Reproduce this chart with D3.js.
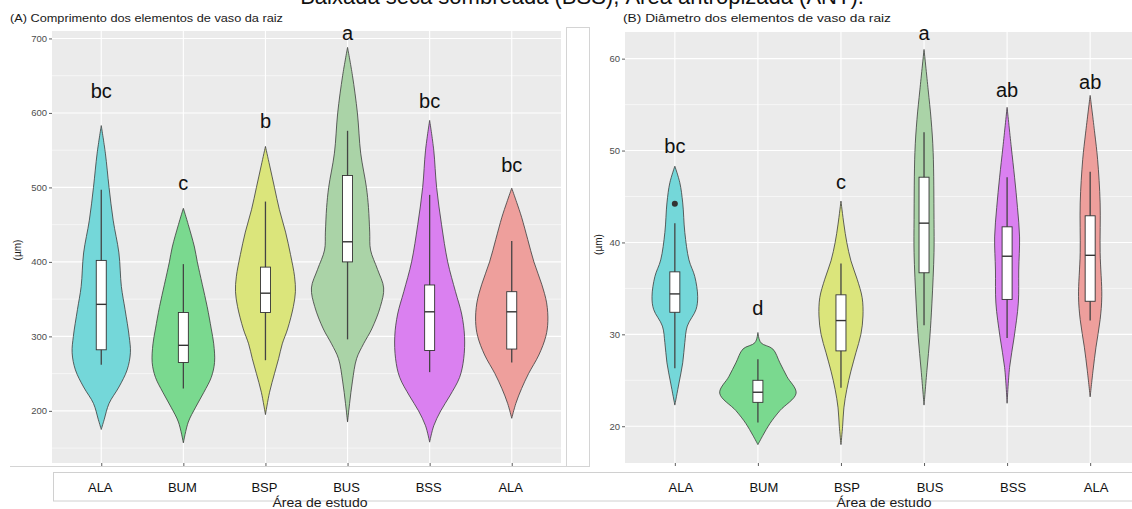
<!DOCTYPE html>
<html>
<head>
<meta charset="utf-8">
<script src="https://cdn.jsdelivr.net/npm/d3@7/dist/d3.min.js"></script>
<style>
  html, body { margin: 0; padding: 0; background: #fff; }
  svg { display: block; font-family: "Liberation Sans", Arial, sans-serif; }
</style>
</head>
<body>
<svg id="chart" width="1132" height="509"></svg>
<script>
// ---- data -------------------------------------------------------------
const categories = ["ALA", "BUM", "BSP", "BUS", "BSS", "ALA"];
const fills = ["#74D7D9", "#7AD98F", "#DBE57B", "#AAD3A7", "#DA80F0", "#EE9F9C"];

// (A) vessel element length (µm)
const ticksA = [200, 300, 400, 500, 600, 700];
const minorA = [150, 250, 350, 450, 550, 650];
const lettersA = ["bc", "c", "b", "a", "bc", "bc"];
const letterYA = [630, 506, 589, 707, 616, 530];
const whiskerLoA = [262, 230, 268, 296, 252, 265];
const q1A = [282, 265, 332, 400, 281, 283];
const medianA = [343, 288, 358, 427, 333, 333];
const q3A = [402, 332, 393, 516, 369, 360];
const whiskerHiA = [497, 397, 481, 576, 490, 428];
const outliersA = [[], [], [], [], [], []];
// violin outlines: [value, relative density]
const violinA = [
  [[583,0],[546,.10],[500,.19],[456,.29],[412,.43],[367,.49],[336,.58],[300,.68],[278,.71],[255,.63],[232,.43],[210,.19],[188,.07],[175,0]],
  [[472,0],[450,.12],[420,.27],[400,.34],[370,.46],[340,.58],[310,.68],[290,.74],[265,.76],[245,.68],[225,.5],[205,.3],[185,.12],[157,0]],
  [[555,0],[530,.1],[500,.22],[470,.34],[440,.49],[410,.61],[380,.71],[360,.73],[340,.68],[310,.54],[290,.41],[270,.32],[250,.22],[225,.1],[195,0]],
  [[688,0],[650,.12],[600,.24],[546,.32],[500,.46],[473,.51],[440,.54],[416,.56],[390,.73],[365,.88],[340,.8],[310,.59],[290,.39],[270,.22],[240,.12],[210,.05],[185,0]],
  [[590,0],[550,.1],[500,.17],[450,.29],[400,.44],[360,.63],[330,.78],[300,.85],[270,.83],[245,.73],[220,.49],[200,.27],[180,.1],[158,0]],
  [[499,0],[480,.12],[460,.24],[430,.39],[400,.54],[370,.73],[345,.85],[320,.88],[300,.83],[275,.66],[250,.41],[230,.24],[210,.1],[190,0]]
];

// (B) vessel element diameter (µm)
const ticksB = [20, 30, 40, 50, 60];
const minorB = [25, 35, 45, 55];
const lettersB = ["bc", "d", "c", "a", "ab", "ab"];
const letterYB = [50.5, 32.9, 46.6, 62.8, 56.6, 57.5];
const whiskerLoB = [26.3, 20.4, 24.2, 31.0, 29.6, 31.5];
const q1B = [32.4, 22.6, 28.2, 36.7, 33.8, 33.6];
const medianB = [34.4, 23.7, 31.5, 42.1, 38.5, 38.6];
const q3B = [36.8, 25.0, 34.3, 47.1, 41.7, 42.9];
const whiskerHiB = [42.1, 27.3, 37.7, 52.0, 47.1, 47.7];
const outliersB = [[44.2], [], [], [], [], []];
const violinB = [
  [[48.3,0],[46.5,.12],[44.3,.19],[41.1,.24],[38.1,.34],[36.3,.48],[34.1,.55],[32.7,.51],[30.9,.3],[29.1,.24],[26.9,.19],[24.7,.1],[22.3,0]],
  [[30.2,0],[29.1,.07],[28.4,.36],[26.9,.53],[25.4,.7],[23.6,.92],[21.7,.53],[20.3,.29],[19.0,.12],[18.0,0]],
  [[44.5,0],[42,.07],[40,.14],[38,.24],[36,.39],[34,.51],[32,.53],[30,.48],[28,.36],[26,.24],[24,.14],[22,.07],[20,.04],[18,0]],
  [[61,0],[56.6,.1],[53.4,.17],[49.8,.22],[42.5,.24],[38.9,.24],[33.4,.19],[29.7,.14],[26.1,.07],[22.3,0]],
  [[54.7,0],[50.4,.1],[47.1,.18],[43.8,.25],[40.6,.3],[37,.28],[33.4,.27],[29.7,.17],[26.4,.06],[22.5,0]],
  [[56,0],[51.9,.11],[49,.18],[44.3,.24],[38.9,.24],[34.1,.28],[31.6,.24],[28.6,.14],[26.1,.07],[23.2,0]]
];

// ---- drawing ----------------------------------------------------------
const svg = d3.select("#chart");
svg.append("rect").attr("width", 1132).attr("height", 509).attr("fill", "#fff");

// headline running above the figure (only its lower part is in view)
svg.append("text")
  .attr("x", 582).attr("y", 4)
  .attr("text-anchor", "middle")
  .attr("font-size", 22)
  .attr("fill", "#111")
  .text("Baixada seca sombreada (BSS), Área antropizada (ANT).");

function panel(cfg) {
  const g = svg.append("g");
  const idx = d3.range(categories.length);
  const x = d3.scalePoint().domain(idx).range([cfg.left, cfg.right]).padding(0.6);
  const y = d3.scaleLinear().domain(cfg.yDomain).range([cfg.bottom, cfg.top]);
  const half = x.step() / 2;
  const w = d3.scaleLinear().domain([0, 1]).range([0, half]);

  // panel background
  g.append("rect")
    .attr("x", cfg.left).attr("y", cfg.top)
    .attr("width", cfg.right - cfg.left).attr("height", cfg.bottom - cfg.top)
    .attr("fill", "#EBEBEB");

  // grid
  g.selectAll(".minor").data(cfg.minor).join("line")
    .attr("x1", cfg.left).attr("x2", cfg.right)
    .attr("y1", d => y(d)).attr("y2", d => y(d))
    .attr("stroke", "#fff").attr("stroke-width", 0.55);
  g.selectAll(".major").data(cfg.ticks).join("line")
    .attr("x1", cfg.left).attr("x2", cfg.right)
    .attr("y1", d => y(d)).attr("y2", d => y(d))
    .attr("stroke", "#fff").attr("stroke-width", 1.1);
  g.selectAll(".vgrid").data(idx).join("line")
    .attr("x1", d => x(d)).attr("x2", d => x(d))
    .attr("y1", cfg.top).attr("y2", cfg.bottom)
    .attr("stroke", "#fff").attr("stroke-width", 1.1);

  // y axis
  const yAxis = d3.axisLeft(y).tickValues(cfg.ticks).tickSize(3).tickPadding(2);
  const ya = g.append("g").attr("transform", `translate(${cfg.left},0)`).call(yAxis);
  ya.select(".domain").remove();
  ya.selectAll("line").attr("stroke", "#333").attr("stroke-width", 0.8);
  ya.selectAll("text").attr("fill", "#4D4D4D").attr("font-size", 9.5)
    .attr("font-family", "Liberation Sans, Arial, sans-serif");

  // x axis ticks
  const xAxis = d3.axisBottom(x).tickSize(3).tickFormat("");
  const xa = g.append("g").attr("transform", `translate(0,${cfg.bottom})`).call(xAxis);
  xa.select(".domain").remove();
  xa.selectAll("line").attr("stroke", "#333").attr("stroke-width", 0.8);

  // violins
  const area = d3.area()
    .y(d => y(d[0]))
    .curve(d3.curveCatmullRom.alpha(0.5));
  idx.forEach(i => {
    const cx = x(i);
    area.x0(d => cx - w(d[1])).x1(d => cx + w(d[1]));
    g.append("path")
      .datum(cfg.violin[i])
      .attr("d", area)
      .attr("fill", fills[i])
      .attr("stroke", "#3b3b3b")
      .attr("stroke-width", 0.8);
  });

  // box plots
  const bw = 5;
  idx.forEach(i => {
    const cx = x(i);
    g.append("line")
      .attr("x1", cx).attr("x2", cx)
      .attr("y1", y(cfg.wLo[i])).attr("y2", y(cfg.wHi[i]))
      .attr("stroke", "#444").attr("stroke-width", 1.3);
    g.append("rect")
      .attr("x", cx - bw).attr("width", bw * 2)
      .attr("y", y(cfg.q3[i])).attr("height", y(cfg.q1[i]) - y(cfg.q3[i]))
      .attr("fill", "#fff").attr("stroke", "#333").attr("stroke-width", 0.9);
    g.append("line")
      .attr("x1", cx - bw).attr("x2", cx + bw)
      .attr("y1", y(cfg.med[i])).attr("y2", y(cfg.med[i]))
      .attr("stroke", "#333").attr("stroke-width", 1.4);
    cfg.out[i].forEach(v => {
      g.append("circle").attr("cx", cx).attr("cy", y(v)).attr("r", 3).attr("fill", "#333");
    });
  });

  // significance letters
  g.selectAll(".letter").data(idx).join("text")
    .attr("x", d => x(d)).attr("y", d => y(cfg.letterY[d]))
    .attr("dy", "0.35em")
    .attr("text-anchor", "middle")
    .attr("font-size", 20)
    .attr("fill", "#111")
    .text(d => cfg.letters[d]);

  // panel title
  g.append("text")
    .attr("x", cfg.titleX).attr("y", 22)
    .attr("font-size", 11.5).attr("fill", "#1a1a1a")
    .attr("textLength", cfg.titleLen).attr("lengthAdjust", "spacingAndGlyphs")
    .text(cfg.title);

  // y title
  g.append("text")
    .attr("transform", `translate(${cfg.yTitleX},${(cfg.top + cfg.bottom) / 2 + cfg.yTitleShift}) rotate(-90)`)
    .attr("text-anchor", "middle")
    .attr("font-size", 10).attr("fill", "#1a1a1a")
    .text("(µm)");

  // category labels strip
  g.selectAll(".cat").data(idx).join("text")
    .attr("x", d => x(d) + cfg.labelShift).attr("y", 492)
    .attr("text-anchor", "middle")
    .attr("font-size", 13).attr("fill", "#111")
    .text(d => categories[d]);

  g.append("text")
    .attr("x", cfg.xTitleX).attr("y", 507)
    .attr("text-anchor", "middle")
    .attr("font-size", 12).attr("fill", "#1a1a1a")
    .attr("textLength", 95).attr("lengthAdjust", "spacingAndGlyphs")
    .text("Área de estudo");
}

// frames around the figure pieces
svg.append("line").attr("x1", 10).attr("x2", 589).attr("y1", 466.5).attr("y2", 466.5)
  .attr("stroke", "#d4d4d4").attr("stroke-width", 1);
svg.append("rect").attr("x", 566.5).attr("y", 27.5).attr("width", 23).attr("height", 439)
  .attr("fill", "#fff").attr("stroke", "#d4d4d4").attr("stroke-width", 1);
svg.append("rect").attr("x", 53.5).attr("y", 472.5).attr("width", 1100).attr("height", 28.5)
  .attr("fill", "#fff").attr("stroke", "#d0d0d0").attr("stroke-width", 1);

panel({
  left: 52, right: 561, top: 31, bottom: 463,
  yDomain: [130, 710], ticks: ticksA, minor: minorA,
  violin: violinA, wLo: whiskerLoA, q1: q1A, med: medianA, q3: q3A, wHi: whiskerHiA, out: outliersA,
  letters: lettersA, letterY: letterYA,
  title: "(A) Comprimento dos elementos de vaso da raiz", titleX: 10, titleLen: 273,
  yTitleX: 21, yTitleShift: 3, labelShift: -1, xTitleX: 320
});

panel({
  left: 625, right: 1140, top: 32, bottom: 463,
  yDomain: [16, 62.9], ticks: ticksB, minor: minorB,
  violin: violinB, wLo: whiskerLoB, q1: q1B, med: medianB, q3: q3B, wHi: whiskerHiB, out: outliersB,
  letters: lettersB, letterY: letterYB,
  title: "(B) Diâmetro dos elementos de vaso da raiz", titleX: 623, titleLen: 268,
  yTitleX: 602, yTitleShift: -3, labelShift: 6, xTitleX: 884
});
</script>
</body>
</html>
